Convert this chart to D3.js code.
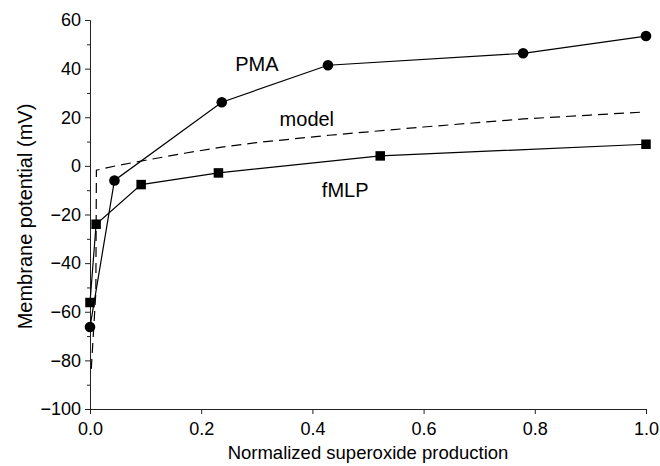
<!DOCTYPE html>
<html>
<head>
<meta charset="utf-8">
<script src="https://cdn.jsdelivr.net/npm/d3@7"></script>
<style>
  body { margin: 0; background: #fff; }
  text { font-family: "Liberation Sans", Arial, sans-serif; fill: #000; }
</style>
</head>
<body>
<div class="chart"></div>
<script>
//数据
let pmaX = [0.0, 0.044, 0.237, 0.428, 0.779, 1.0]
let pmaY = [-66.3, -6.0, 26.2, 41.4, 46.3, 53.4]
let fmlpX = [0.0, 0.011, 0.092, 0.231, 0.522, 1.0]
let fmlpY = [-56.2, -24.0, -7.7, -2.9, 4.1, 8.9]
let modelX = [0.0023, 0.0105, 0.0115, 0.05, 0.1, 0.17, 0.234, 0.3, 0.43, 0.6, 0.78, 0.9, 1.0]
let modelY = [-83.5, -52, -1.8, 0.2, 2.3, 5.2, 7.6, 9.6, 12.6, 16.0, 19.3, 20.9, 22.2]
let xTicks = [0, 0.2, 0.4, 0.6, 0.8, 1.0]
let yTicks = [60, 40, 20, 0, -20, -40, -60, -80, -100]
let yMinorTicks = [50, 30, 10, -10, -30, -50, -70, -90]
let curveLabels = [
  {text: 'PMA', x: 0.30, y: 39},
  {text: 'model', x: 0.39, y: 16.3},
  {text: 'fMLP', x: 0.459, y: -12.8}
]

//图表样式
let chartStyle = {
  w: 660,
  h: 466,
  padLeft: 90,
  padRight: 14,
  padTop: 20,
  padBottom: 57
}

let {w, h, padLeft, padRight, padTop, padBottom} = chartStyle
let svg = d3.select('.chart')
  .append('svg')
  .attr('width', w)
  .attr('height', h)

let xScale = d3.scaleLinear()
  .domain([0, 1])
  .range([padLeft, w - padRight])
let yScale = d3.scaleLinear()
  .domain([-100, 60])
  .range([h - padBottom, padTop])

//坐标轴
let xAxis = d3.axisBottom(xScale)
  .tickValues(xTicks)
  .tickSize(5)
  .tickPadding(4)
  .tickFormat(d3.format('.1f'))
let yAxis = d3.axisLeft(yScale)
  .tickValues(yTicks)
  .tickSize(5)
  .tickPadding(4)
let yMinor = d3.axisLeft(yScale)
  .tickValues(yMinorTicks)
  .tickSize(3)
  .tickFormat('')

let gx = svg.append('g')
  .attr('class', 'x axis')
  .attr('transform', `translate(0, ${h - padBottom})`)
  .call(xAxis)
let gy = svg.append('g')
  .attr('class', 'y axis')
  .attr('transform', `translate(${padLeft}, 0)`)
  .call(yAxis)
svg.append('g')
  .attr('class', 'y minor')
  .attr('transform', `translate(${padLeft}, 0)`)
  .call(yMinor)
  .select('.domain').remove()

svg.selectAll('.axis text')
  .attr('font-size', '18px')
  .attr('font-family', '"Liberation Sans", Arial, sans-serif')
gx.selectAll('text').attr('dy', '0.93em')
svg.selectAll('.axis path, .axis line, .minor line')
  .attr('stroke', '#222')
  .attr('stroke-width', 1)

//坐标轴标题
svg.append('text')
  .attr('x', (padLeft + w - padRight) / 2)
  .attr('y', 459)
  .attr('text-anchor', 'middle')
  .attr('font-size', '18.5px')
  .text('Normalized superoxide production')
svg.append('text')
  .attr('transform', `translate(32, ${(padTop + h - padBottom) / 2 + 2}) rotate(-90)`)
  .attr('text-anchor', 'middle')
  .attr('font-size', '20px')
  .text('Membrane potential (mV)')

let line = d3.line()
  .x(d => xScale(d[0]))
  .y(d => yScale(d[1]))

let pma = d3.zip(pmaX, pmaY)
let fmlp = d3.zip(fmlpX, fmlpY)
let model = d3.zip(modelX, modelY)

//模型虚线
svg.append('path')
  .datum(model)
  .attr('d', line)
  .attr('fill', 'none')
  .attr('stroke', '#000')
  .attr('stroke-width', 1.2)
  .attr('stroke-dasharray', '10,6')

//PMA
svg.append('path')
  .datum(pma)
  .attr('d', line)
  .attr('fill', 'none')
  .attr('stroke', '#000')
  .attr('stroke-width', 1.2)
svg.selectAll('circle')
  .data(pma)
  .enter()
  .append('circle')
  .attr('cx', d => xScale(d[0]))
  .attr('cy', d => yScale(d[1]))
  .attr('r', 5.3)
  .attr('fill', '#000')

//fMLP
svg.append('path')
  .datum(fmlp)
  .attr('d', line)
  .attr('fill', 'none')
  .attr('stroke', '#000')
  .attr('stroke-width', 1.2)
let sq = 9.5
svg.selectAll('rect.sq')
  .data(fmlp)
  .enter()
  .append('rect')
  .attr('class', 'sq')
  .attr('x', d => xScale(d[0]) - sq / 2)
  .attr('y', d => yScale(d[1]) - sq / 2)
  .attr('width', sq)
  .attr('height', sq)
  .attr('fill', '#000')

//曲线标签
svg.selectAll('text.lbl')
  .data(curveLabels)
  .enter()
  .append('text')
  .attr('class', 'lbl')
  .attr('x', d => xScale(d.x))
  .attr('y', d => yScale(d.y))
  .attr('text-anchor', 'middle')
  .attr('font-size', '20px')
  .text(d => d.text)
</script>
</body>
</html>
